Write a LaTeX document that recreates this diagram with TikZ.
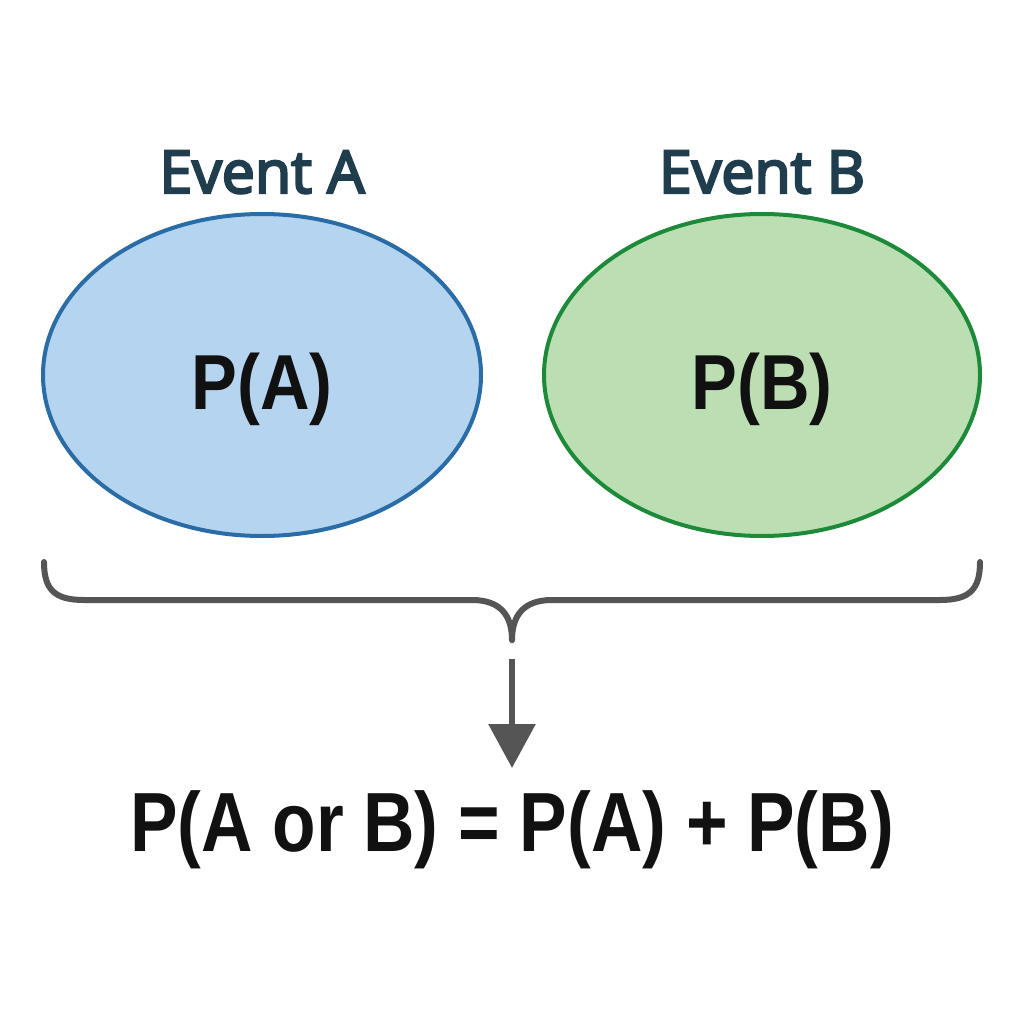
\documentclass[tikz,border=0pt]{standalone}
\usepackage{fontspec}
\setmainfont{Liberation Sans}
\newfontfamily\headfont[FakeBold=4]{Open Sans}
\usetikzlibrary{arrows.meta}
\definecolor{headcol}{HTML}{1F3D4D}
\definecolor{afill}{HTML}{B4D4EF}
\definecolor{adraw}{HTML}{2A6CA6}
\definecolor{bfill}{HTML}{BBDFB3}
\definecolor{bdraw}{HTML}{1D8A3A}
\definecolor{gray55}{HTML}{555555}
\definecolor{ink}{HTML}{111111}
\tikzset{
  head/.style={font=\headfont\fontsize{59}{61}\selectfont, text=headcol, anchor=base, inner sep=0pt},
  ptext/.style={font=\bfseries\fontsize{78}{80}\selectfont, text=ink, anchor=base, xscale=0.88, inner sep=0pt},
  brace/.style={draw=gray55, line width=6pt, line cap=round},
}
\begin{document}
\begin{tikzpicture}[x=1pt,y=-1pt]
\useasboundingbox (0,0) rectangle (1024,1024);
\fill[white] (0,0) rectangle (1024,1024);
% ellipses
\filldraw[fill=afill, draw=adraw, line width=4pt] (262,375) ellipse [x radius=219, y radius=161];
\filldraw[fill=bfill, draw=bdraw, line width=4pt] (762,375) ellipse [x radius=218, y radius=161];
\node[head] (ha) at (262,193) {Event A};
\node[head] (hb) at (762,193) {Event B};
\node[ptext] (pa) at (262,409) {P(A)};
\node[ptext] (pb) at (762,409) {P(B)};
% brace
\coordinate (bl) at (44,562);
\coordinate (br) at (980,562);
\coordinate (btip) at (512,640);
\draw[brace] (bl) .. controls (44,590) and (55,600) .. (84,600) -- (472,600) .. controls (500,600) and (512,615) .. (btip);
\draw[brace] (br) .. controls (980,590) and (969,600) .. (940,600) -- (552,600) .. controls (524,600) and (512,615) .. (btip);
% arrow and formula
\coordinate (as) at (512,659);
\node[inner sep=0pt, text=ink] (eq) at (512,851) [anchor=base, font=\bfseries\fontsize{84}{86}\selectfont, xscale=0.848] {P(A or B) = P(A) + P(B)};
\draw[draw=gray55, line width=6pt, -{Triangle[length=44pt, width=46pt]}] (as) -- (512,768);
\end{tikzpicture}
\end{document}
